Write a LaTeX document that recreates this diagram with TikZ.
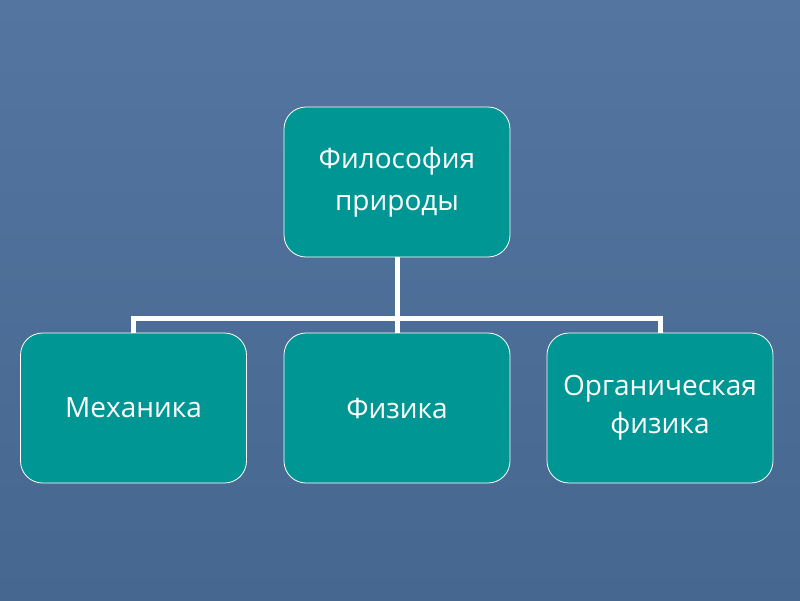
\documentclass[tikz,border=0pt]{standalone}
\usepackage{fontspec}
\setmainfont{Open Sans}
\begin{document}
\begin{tikzpicture}[x=1pt,y=-1pt,
  bg/.style={top color=bgtop,bottom color=bgbot},
  tbox/.style={draw=white,line width=0.8pt,fill=boxfill,rounded corners=22pt,
    minimum width=226pt,minimum height=150pt,inner sep=0pt,
    text=white,font=\fontsize{28}{38}\selectfont,align=center},
  conn/.style={draw=white,line width=5pt}]
\definecolor{bgtop}{HTML}{5375A0}
\definecolor{bgbot}{HTML}{46678F}
\definecolor{boxfill}{HTML}{009694}
\fill[bg] (0,0) rectangle (800,600);
\useasboundingbox (0,0) rectangle (800,600);
\node[tbox,font=\fontsize{28}{42}\selectfont] (top) at (397,182) {Философия\\природы};
\node[tbox] (mech) at (133.5,408) {Механика};
\node[tbox] (fiz) at (397,408) {Физика};
\node[tbox] (org) at (660,408) {Органическая\\физика};
\coordinate (j) at (397,318);
\draw[conn] (top.south) -- (j);
\draw[conn] (mech.north) -- (mech.north |- j) -- (org.north |- j) -- (org.north);
\draw[conn] (j) -- (fiz.north);
\end{tikzpicture}
\end{document}
